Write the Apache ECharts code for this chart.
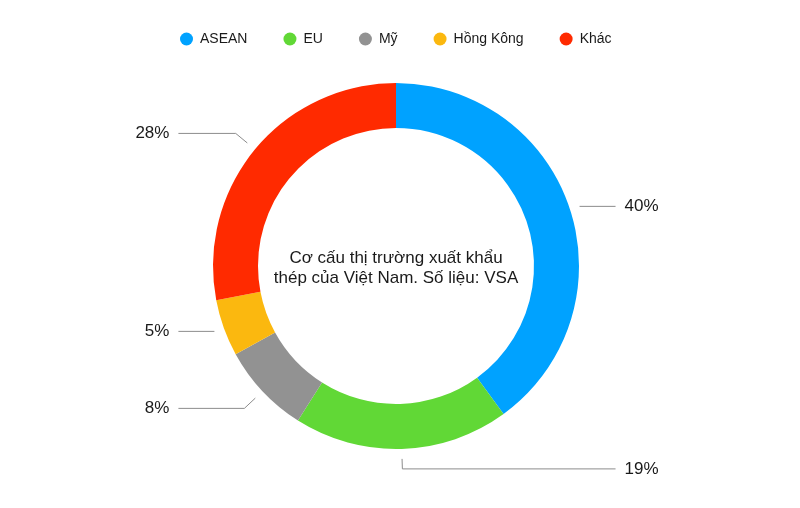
<!DOCTYPE html>
<html>
<head>
<meta charset="utf-8">
<script src="https://cdn.jsdelivr.net/npm/echarts@6/dist/echarts.min.js"></script>
<style>
html,body{margin:0;padding:0;background:#fff;}
#chart{width:800px;height:508px;}
</style>
</head>
<body>
<div id="chart"></div>
<script>
// ---- data ----
const categories = ['ASEAN', 'EU', 'Mỹ', 'Hồng Kông', 'Khác'];
const shares = [40, 19, 8, 5, 28];
const centerTitle = 'Cơ cấu thị trường xuất khẩu\nthép của Việt Nam. Số liệu: VSA';

// ---- style ----
const colors = ['#00A2FF', '#61D836', '#929292', '#FBB80F', '#FF2A00'];
const firstLeaderSegment = [0, 10, 15, 0, 15];
const FONT = '"Liberation Sans", Arial, Helvetica, sans-serif';
const LABEL_GAP = 9;

const chart = echarts.init(document.getElementById('chart'), null, {renderer: 'canvas'});

const ringData = categories.map((name, i) => ({
  name: name,
  value: shares[i],
  itemStyle: {color: colors[i]}
}));
const labelData = categories.map((name, i) => ({
  name: name,
  value: shares[i],
  labelLine: {length: firstLeaderSegment[i]}
}));

// Align leader-line ends per side (like alignTo: 'labelLine'), using the
// line points computed by ECharts' own pie layout.
const linePointsByIndex = {};
let alignPass = 0;
function isLeftSide(pts) { return pts[2][0] < pts[1][0]; }
function alignLabels(params) {
  const pts = params.labelLinePoints;
  if (!pts) return {};
  linePointsByIndex[params.dataIndex] = pts.map(p => p.slice());
  if (alignPass === 0) return {};
  const left = isLeftSide(pts);
  const ends = Object.values(linePointsByIndex)
    .filter(p => isLeftSide(p) === left)
    .map(p => p[2][0]);
  const endX = left ? Math.min.apply(null, ends) : Math.max.apply(null, ends);
  const y = pts[2][1];
  return {
    x: endX + (left ? -LABEL_GAP : LABEL_GAP),
    y: y,
    align: left ? 'right' : 'left',
    verticalAlign: 'middle',
    labelLinePoints: [pts[0], pts[1], [endX, y]]
  };
}

const option = {
  animation: false,
  backgroundColor: '#ffffff',
  color: colors,
  legend: {
    data: categories,
    top: 27,
    left: 175,
    icon: 'circle',
    itemWidth: 17,
    itemHeight: 13,
    itemGap: 36,
    textStyle: {fontFamily: FONT, fontSize: 14, color: '#1a1a1a'}
  },
  graphic: [{
    type: 'text',
    x: 396,
    y: 268,
    silent: true,
    style: {
      text: centerTitle,
      fontFamily: FONT,
      fontSize: 17,
      lineHeight: 20,
      fill: '#1a1a1a',
      align: 'center',
      verticalAlign: 'middle'
    }
  }],
  series: [
    {
      type: 'pie',
      name: 'ring',
      center: [396, 266],
      radius: [138, 183],
      startAngle: 90,
      clockwise: true,
      label: {show: false},
      labelLine: {show: false},
      emphasis: {disabled: true},
      data: ringData
    },
    {
      type: 'pie',
      name: 'labels',
      silent: true,
      center: [396, 266],
      radius: [186, 193],
      startAngle: 90,
      clockwise: true,
      itemStyle: {color: 'rgba(0,0,0,0)'},
      emphasis: {disabled: true},
      avoidLabelOverlap: false,
      label: {
        show: true,
        position: 'outside',
        alignTo: 'none',
        distanceToLabelLine: LABEL_GAP,
        formatter: '{c}%',
        fontFamily: FONT,
        fontSize: 17,
        color: '#1a1a1a'
      },
      labelLine: {
        show: true,
        length: 10,
        length2: 36,
        smooth: false,
        lineStyle: {color: '#8c8c8c', width: 1}
      },
      labelLayout: alignLabels,
      data: labelData
    }
  ]
};

chart.setOption(option);
alignPass = 1;
chart.setOption(option, true);
</script>
</body>
</html>
